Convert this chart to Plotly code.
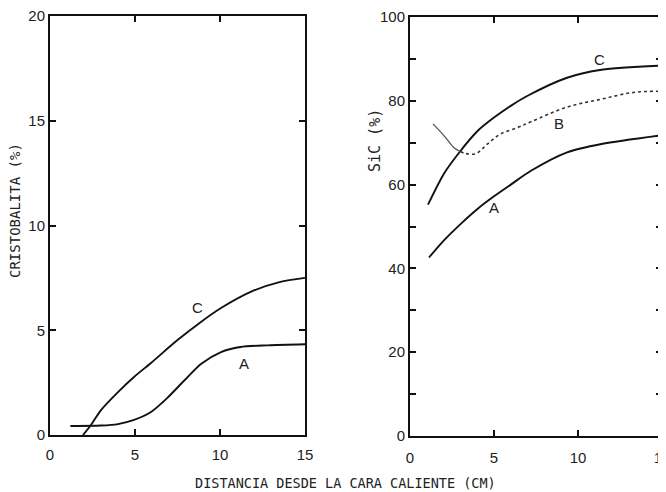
import plotly.graph_objects as go

# Left panel: CRISTOBALITA (%)
left_C_x = [1.94, 2.41, 3.0, 4.0, 4.94, 5.94, 7.5, 8.8, 10.06, 12.0, 13.5, 15.0]
left_C_y = [0.0, 0.48, 1.19, 2.05, 2.77, 3.44, 4.53, 5.35, 6.06, 6.9, 7.3, 7.5]
left_A_x = [1.2, 3.0, 4.0, 4.94, 5.94, 6.9, 7.9, 8.9, 10.06, 11.2, 12.8, 15.0]
left_A_y = [0.43, 0.45, 0.52, 0.72, 1.1, 1.77, 2.6, 3.4, 3.96, 4.2, 4.28, 4.33]

# Right panel: SiC (%)
right_C_x = [1.07, 2.02, 2.92, 4.05, 5.0, 6.0, 7.0, 9.35, 11.4, 15.0]
right_C_y = [55.2, 62.6, 67.6, 72.9, 76.0, 78.8, 81.2, 85.5, 87.4, 88.4]
right_B1_x = [1.37, 2.02, 2.62, 3.0]
right_B1_y = [74.5, 71.7, 68.8, 67.9]
right_B2_x = [3.0, 3.33, 3.93, 4.64, 5.4, 6.4, 7.2, 9.35, 11.4, 13.3, 15.0]
right_B2_y = [67.9, 67.4, 67.4, 69.8, 72.1, 73.6, 75.0, 78.5, 80.4, 82.0, 82.3]
right_A_x = [1.13, 2.02, 3.04, 4.05, 5.0, 6.0, 7.2, 9.35, 11.4, 15.0]
right_A_y = [42.6, 46.7, 50.7, 54.3, 57.2, 60.0, 63.3, 67.7, 69.7, 71.8]

x_ticks = [0, 5, 10, 15]
left_y_ticks = [0, 5, 10, 15, 20]
right_y_ticks = [0, 10, 20, 30, 40, 50, 60, 70, 80, 90, 100]
right_y_text = ["0", "", "20", "", "40", "", "60", "", "80", "", "100"]

# page body has an 8px margin; figure is offset by (8, 8)
OFF = 8
W, H = 658, 484
TICKFONT = dict(family="Liberation Sans, Arial, sans-serif", size=15, color="#222")
MONO = dict(family="DejaVu Sans Mono, Liberation Mono, monospace", size=13, color="#222222")

fig = go.Figure()
line = dict(color="#111", width=1.9, shape="spline", smoothing=0.8)

fig.add_trace(go.Scatter(x=left_C_x, y=left_C_y, mode="lines", line=line, xaxis="x", yaxis="y"))
fig.add_trace(go.Scatter(x=left_A_x, y=left_A_y, mode="lines", line=line, xaxis="x", yaxis="y"))
fig.add_trace(go.Scatter(x=right_C_x, y=right_C_y, mode="lines", line=line, xaxis="x2", yaxis="y2"))
fig.add_trace(go.Scatter(x=right_A_x, y=right_A_y, mode="lines", line=line, xaxis="x2", yaxis="y2"))
fig.add_trace(go.Scatter(x=right_B1_x, y=right_B1_y, mode="lines",
                         line=dict(color="#555", width=1.3, shape="spline"), xaxis="x2", yaxis="y2"))
fig.add_trace(go.Scatter(x=right_B2_x, y=right_B2_y, mode="lines",
                         line=dict(color="#333", width=1.6, dash="dot", shape="spline"), xaxis="x2", yaxis="y2"))

def px_x(p):
    return (p - OFF) / W

def px_y(p):
    return (H - (p - OFF)) / H

axis_common = dict(showline=True, linecolor="#111", linewidth=2, mirror="ticks",
                   ticks="inside", ticklen=6, tickwidth=1.8, tickcolor="#111",
                   showgrid=False, zeroline=False, tickfont=TICKFONT, automargin=False,
                   ticklabeloverflow="allow")

fig.update_layout(
    width=W, height=H,
    margin=dict(l=0, r=0, t=0, b=0),
    paper_bgcolor="white", plot_bgcolor="white",
    showlegend=False,
    xaxis=dict(domain=[px_x(50), px_x(305)], range=[0, 15], tickvals=x_ticks,
               ticklabelstandoff=5, anchor="y", **axis_common),
    yaxis=dict(domain=[px_y(435), px_y(16)], range=[0, 20], tickvals=left_y_ticks,
               anchor="x", **axis_common),
    xaxis2=dict(domain=[px_x(410), px_x(662)], range=[0, 15], tickvals=x_ticks,
                ticklabelstandoff=7, anchor="y2", **axis_common),
    yaxis2=dict(domain=[px_y(436), px_y(17)], range=[0, 100], tickvals=right_y_ticks,
                ticktext=right_y_text, anchor="x2", **axis_common),
    annotations=[
        dict(text="CRISTOBALITA (%)", x=px_x(15), y=px_y(211), xref="paper", yref="paper",
             xanchor="center", yanchor="middle",
             textangle=-90, showarrow=False, font=dict(MONO, size=14)),
        dict(text="SiC (%)", x=px_x(375), y=px_y(141), xref="paper", yref="paper",
             xanchor="center", yanchor="middle",
             textangle=-90, showarrow=False, font=dict(MONO, size=15)),
        dict(text="DISTANCIA DESDE LA CARA CALIENTE (CM)", x=px_x(345), y=px_y(483),
             xref="paper", yref="paper", xanchor="center", yanchor="middle",
             showarrow=False, font=dict(MONO, size=13.5)),
        dict(text="C", x=8.7, y=6.1, xref="x", yref="y", showarrow=False, font=TICKFONT),
        dict(text="A", x=11.4, y=3.4, xref="x", yref="y", showarrow=False, font=TICKFONT),
        dict(text="C", x=11.25, y=89.8, xref="x2", yref="y2", showarrow=False, font=TICKFONT),
        dict(text="B", x=8.87, y=74.7, xref="x2", yref="y2", showarrow=False, font=TICKFONT),
        dict(text="A", x=5.0, y=54.6, xref="x2", yref="y2", showarrow=False, font=TICKFONT),
    ],
)

fig.write_html("out.html")
